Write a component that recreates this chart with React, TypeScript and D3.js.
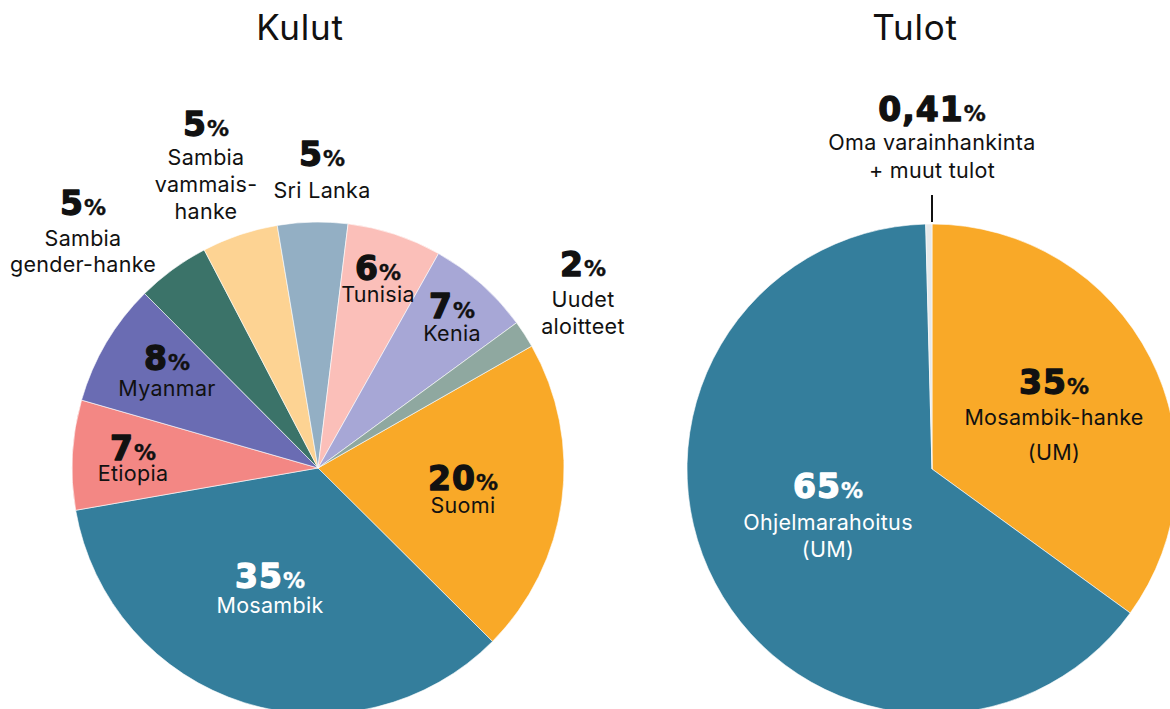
import React from "react";
import * as d3 from "d3";

const kulutCategories = ["Suomi", "Mosambik", "Etiopia", "Myanmar", "Sambia gender-hanke", "Sambia vammais-hanke", "Sri Lanka", "Tunisia", "Kenia", "Uudet aloitteet"];
const kulutValues = [20.7, 34.8, 7.2, 8.1, 4.8, 5.0, 4.6, 6.2, 6.8, 1.8];
const kulutPctLabels = ["20", "35", "7", "8", "5", "5", "5", "6", "7", "2"];
const kulutColors = ["#f9a928", "#347e9c", "#f38784", "#6a6cb3", "#3b7369", "#fdd393", "#93afc4", "#fbbfb9", "#a7a7d6", "#8fa8a0"];

const tulotCategories = ["Mosambik-hanke (UM)", "Ohjelmarahoitus (UM)", "Oma varainhankinta + muut tulot"];
const tulotValues = [35, 64.59, 0.41];
const tulotPctLabels = ["35", "65", "0,41"];
const tulotColors = ["#f9a928", "#347e9c", "#e6e9ea"];

type Lab = { dx: number; dy: number; lines: string[]; color: string };

const kulutLabels: Lab[] = [
  { dx: 145, dy: 22, lines: ["Suomi"], color: "#111111" },
  { dx: -48, dy: 120, lines: ["Mosambik"], color: "#ffffff" },
  { dx: -185, dy: -8, lines: ["Etiopia"], color: "#111111" },
  { dx: -151, dy: -98, lines: ["Myanmar"], color: "#111111" },
  { dx: -235, dy: -253, lines: ["Sambia", "gender-hanke"], color: "#111111" },
  { dx: -112, dy: -332, lines: ["Sambia", "vammais-", "hanke"], color: "#111111" },
  { dx: 4, dy: -302, lines: ["Sri Lanka"], color: "#111111" },
  { dx: 60, dy: -188, lines: ["Tunisia"], color: "#111111" },
  { dx: 134, dy: -150, lines: ["Kenia"], color: "#111111" },
  { dx: 265, dy: -192, lines: ["Uudet", "aloitteet"], color: "#111111" },
];
const kulutLineGaps = [[23], [25], [21], [26], [31, 26], [29, 27, 27], [32], [22], [23], [31, 27]];

const tulotLabels: Lab[] = [
  { dx: 122, dy: -75, lines: ["Mosambik-hanke", "(UM)"], color: "#111111" },
  { dx: -104, dy: 29, lines: ["Ohjelmarahoitus", "(UM)"], color: "#ffffff" },
  { dx: 0, dy: -348, lines: ["Oma varainhankinta", "+ muut tulot"], color: "#111111" },
];
const tulotLineGaps = [[31, 35], [32, 27], [29, 28]];

const NUM_FONT = "'DejaVu Sans', sans-serif";
const TXT_FONT = "Inter, 'Noto Sans', sans-serif";

function Pie({ cx, cy, r, values, colors, startDeg, labels, pcts, gaps }: any) {
  const a0 = (startDeg * Math.PI) / 180;
  const pie = d3.pie<number>().sort(null).startAngle(a0).endAngle(a0 + 2 * Math.PI);
  const arcs = pie(values);
  const arc = d3.arc<d3.PieArcDatum<number>>().innerRadius(0).outerRadius(r);
  return (
    <g transform={`translate(${cx},${cy})`}>
      {arcs.map((a, i) => (
        <path key={i} d={arc(a) || ""} fill={colors[i]} stroke="#ffffff" strokeOpacity={0.6} strokeWidth={1} />
      ))}
      {labels.map((l: Lab, i: number) => {
        let y = l.dy;
        const ys: number[] = [];
        l.lines.forEach((_, j) => {
          y += gaps[i][j];
          ys.push(y);
        });
        return (
          <g key={"l" + i} fill={l.color} textAnchor="middle">
            <text x={l.dx} y={l.dy} fontFamily={NUM_FONT} fontWeight={900} fontSize={33}
              stroke={l.color} strokeWidth={1.3} strokeLinejoin="round" letterSpacing={1}>
              {pcts[i]}
              <tspan fontSize={22} fontWeight={700} strokeWidth={0.4} letterSpacing={0}>%</tspan>
            </text>
            {l.lines.map((t, j) => (
              <text key={j} x={l.dx} y={ys[j]} fontFamily={TXT_FONT} fontSize={21.5} letterSpacing={0.3}>
                {t}
              </text>
            ))}
          </g>
        );
      })}
    </g>
  );
}

export default function App() {
  return (
    <svg width={1170} height={709} style={{ position: "absolute", left: 0, top: 0, background: "#fff" }}>
      <text x={300} y={40} textAnchor="middle" fontFamily={TXT_FONT} fontSize={35} letterSpacing={0.8} fill="#111111">Kulut</text>
      <text x={915} y={40} textAnchor="middle" fontFamily={TXT_FONT} fontSize={35} letterSpacing={0.8} fill="#111111">Tulot</text>
      <Pie cx={318} cy={468} r={246} values={kulutValues} colors={kulutColors} startDeg={60.3}
        labels={kulutLabels} pcts={kulutPctLabels} gaps={kulutLineGaps} />
      <Pie cx={932} cy={469} r={245} values={tulotValues} colors={tulotColors} startDeg={0}
        labels={tulotLabels} pcts={tulotPctLabels} gaps={tulotLineGaps} />
      <line x1={932} x2={932} y1={195} y2={222} stroke="#111111" strokeWidth={2} />
    </svg>
  );
}
